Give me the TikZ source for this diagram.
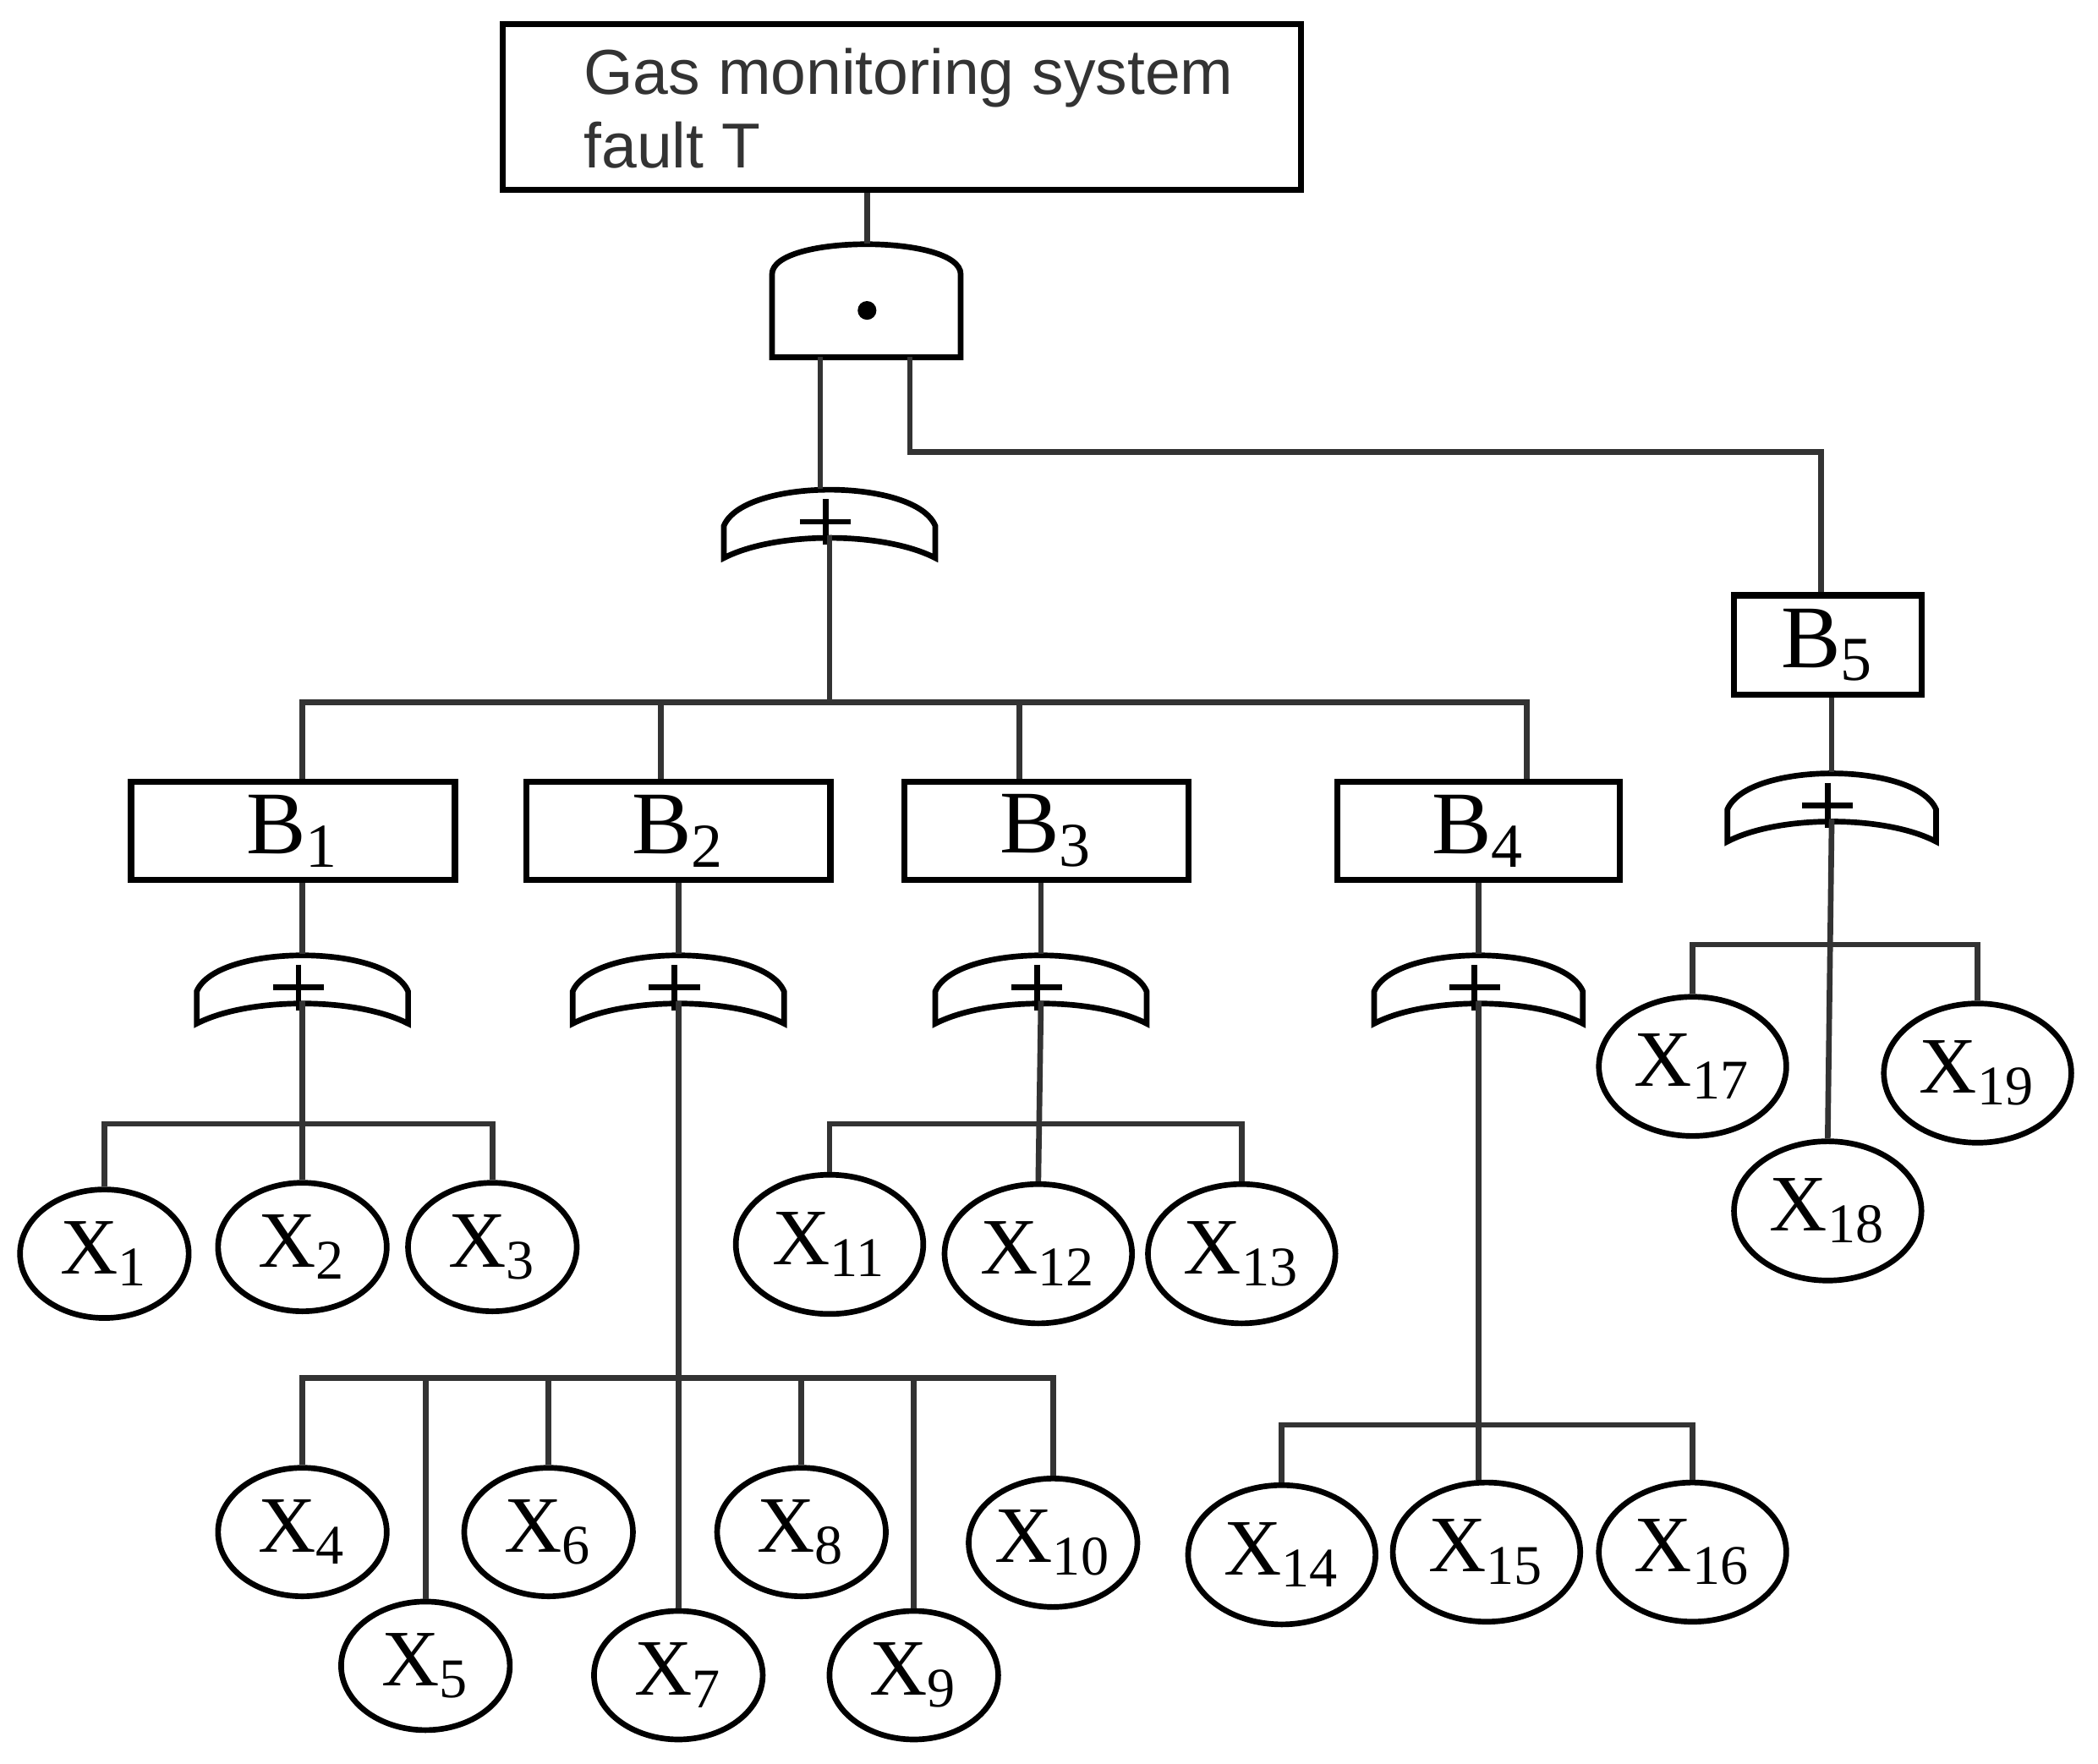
\documentclass[tikz,border=0pt]{standalone}
\usepackage{fontspec}
\setmainfont{Liberation Serif}
\newfontfamily\sansf{Liberation Sans}
\usetikzlibrary{positioning,shapes.geometric}
\tikzset{
  ev/.style={draw,ellipse,line width=1.2pt,minimum width=1.26cm,minimum height=0.96cm,inner sep=0pt,font=\fontsize{17}{18}\selectfont},
  evb/.style={ev,minimum width=1.4cm,minimum height=1.04cm},
  bx/.style={draw,rectangle,line width=1.3pt,inner sep=0pt,font=\fontsize{19}{20}\selectfont},
  ln/.style={line width=1.2pt,draw=black!80}
}
% OR gate: centre x, top y, half width
\newcommand{\orgate}[4]{%
  \draw[line width=1.2pt] (#2-#4,#3+52) -- (#2-#4,#3+28) .. controls (#2-#4+15,#3-8) and (#2+#4-15,#3-8) .. (#2+#4,#3+28) -- (#2+#4,#3+52) .. controls (#2+40,#3+32) and (#2-40,#3+32) .. cycle;
  \draw[line width=1.2pt] (#2-22,#3+25) -- (#2+16,#3+25) (#2-3,#3+8) -- (#2-3,#3+42);
  \coordinate (#1t) at (#2,#3);
  \coordinate (#1b) at (#2,#3+35);}
\begin{document}
\begin{tikzpicture}[x=0.01cm,y=-0.01cm]
\useasboundingbox (0,0) rectangle (1568,1318);
% top event
\node[draw,line width=1.3pt,minimum width=5.96cm,minimum height=1.24cm,inner sep=0pt] (T) at (674,80) {};
\node[anchor=west,align=left,font=\sansf\fontsize{13.5}{15.5}\selectfont,text=black!80] at (424,81) {Gas monitoring system\\fault T};
% AND gate
\draw[line width=1.2pt] (577,267) -- (577,205) .. controls (577,175) and (718,175) .. (718,205) -- (718,267) -- cycle;
\fill (648,232) circle (7);
\coordinate (At) at (648,182);
\coordinate (Al) at (613,267);
\coordinate (Ar) at (680,267);
\draw[ln] (T.south -| At) -- (At);
% OR gates
\orgate{G0}{620}{365}{79}
\orgate{G1}{226}{713}{79}
\orgate{G2}{507}{713}{79}
\orgate{G3}{778}{713}{79}
\orgate{G4}{1105}{713}{78}
\orgate{G5}{1369}{577}{78}
% intermediate events
\node[bx,minimum width=2.42cm,minimum height=0.73cm] (B1) at (219,621) {B\textsubscript{1}};
\node[bx,minimum width=2.27cm,minimum height=0.73cm] (B2) at (507,621) {B\textsubscript{2}};
\node[bx,minimum width=2.12cm,minimum height=0.73cm] (B3) at (782,621) {B\textsubscript{3}};
\node[bx,minimum width=2.11cm,minimum height=0.73cm] (B4) at (1105,621) {B\textsubscript{4}};
\node[bx,minimum width=1.40cm,minimum height=0.74cm] (B5) at (1366,482) {B\textsubscript{5}};
% basic events
\foreach \n/\x/\y in {1/78/937,2/226/932,3/368/932,4/226/1145,5/318/1245,6/410/1145,7/507/1252,8/599/1145,9/683/1252,10/787/1153}
  \node[ev] (X\n) at (\x,\y) {X\textsubscript{\n}};
\foreach \n/\x/\y in {11/620/930,12/776/937,13/928/937,14/958/1162,15/1111/1160,16/1265/1160,17/1265/797,18/1366/905,19/1478/802}
  \node[evb] (X\n) at (\x,\y) {X\textsubscript{\n}};
% connectors
\draw[ln] (Al) -- (Al |- G0t);
\draw[ln] (Ar) |- (1361,338) -- (B5.north -| 1361,0);
\coordinate (h0) at (0,525);
\draw[ln] (G0b) -- (G0b |- h0);
\draw[ln] (B1.north -| 226,0) |- (h0 -| B4.north -| 1141,0) -- (B4.north -| 1141,0);
\draw[ln] (B2.north -| 494,0) -- (h0 -| 494,0);
\draw[ln] (B3.north -| 762,0) -- (h0 -| 762,0);
\draw[ln] (B1.south -| G1t) -- (G1t);
\draw[ln] (B2.south) -- (G2t);
\draw[ln] (B3.south -| G3t) -- (G3t);
\draw[ln] (B4.south) -- (G4t);
\draw[ln] (B5.south -| G5t) -- (G5t);
% B1
\coordinate (h1) at (0,840);
\draw[ln] (G1b) -- (X2.north);
\draw[ln] (X1.north) |- (h1 -| X3.north) -- (X3.north);
% B2
\coordinate (h2) at (0,1030);
\draw[ln] (G2b) -- (X7.north);
\draw[ln] (X4.north) |- (h2 -| X10.north) -- (X10.north);
\foreach \n in {5,6,8,9}
  \draw[ln] (X\n.north) -- (h2 -| X\n.north);
% B3
\coordinate (h3) at (0,840);
\draw[ln] (G3b) -- (X12.north);
\draw[ln] (X11.north) |- (h3 -| X13.north) -- (X13.north);
% B4
\coordinate (h4) at (0,1065);
\draw[ln] (G4b) -- (G4b |- X15.north);
\draw[ln] (X14.north) |- (h4 -| X16.north) -- (X16.north);
% B5
\coordinate (h5) at (0,706);
\draw[ln] (G5b) -- (X18.north);
\draw[ln] (X17.north) |- (h5 -| X19.north) -- (X19.north);
\end{tikzpicture}
\end{document}
